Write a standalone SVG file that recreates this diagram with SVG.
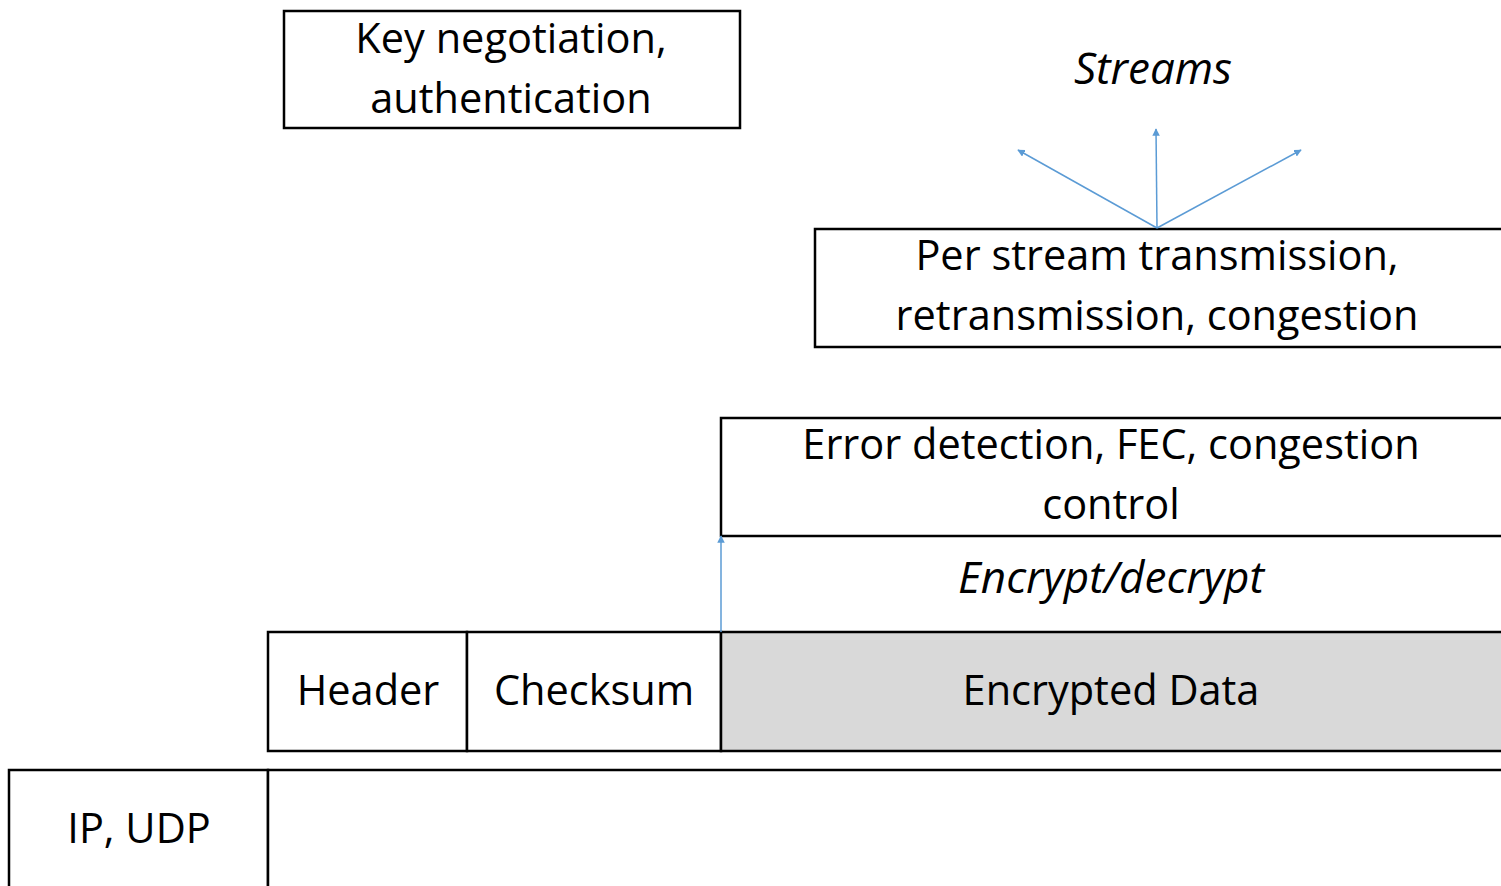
<svg xmlns="http://www.w3.org/2000/svg" width="1501" height="886" viewBox="0 0 1501 886">
  <style>
    .box { fill: #ffffff; stroke: #000000; stroke-width: 2.5; }
    .shaded { fill: #d9d9d9; stroke: #000000; stroke-width: 2.5; }
    .lbl { font-family: "Open Sans", "Liberation Sans", sans-serif; font-size: 41.5px; fill: #000000; text-anchor: middle; }
    .it { font-style: italic; font-size: 44px; }
    .link { stroke: #5b9bd5; stroke-width: 1.5; fill: none; marker-end: url(#tip); }
  </style>
  <defs>
    <marker id="tip" viewBox="0 0 10 10" refX="9" refY="5" markerWidth="5" markerHeight="5" orient="auto">
      <path d="M0,0 L10,5 L0,10 z" fill="#5b9bd5"/>
    </marker>
  </defs>
  <rect width="1501" height="886" fill="#ffffff"/>

  <g id="key-negotiation">
    <rect class="box" x="284" y="11" width="456" height="117"/>
    <text class="lbl" x="511" y="53">Key negotiation,</text>
    <text class="lbl" x="511" y="113">authentication</text>
  </g>

  <g id="streams">
    <text class="lbl it" x="1153" y="84">Streams</text>
  </g>

  <g id="per-stream">
    <rect class="box" x="815" y="229" width="700" height="118"/>
    <text class="lbl" x="1157" y="270">Per stream transmission,</text>
    <text class="lbl" x="1157" y="330">retransmission, congestion</text>
  </g>

  <g id="error-detection">
    <rect class="box" x="721" y="418" width="800" height="118"/>
    <text class="lbl" x="1111" y="459">Error detection, FEC, congestion</text>
    <text class="lbl" x="1111" y="519">control</text>
  </g>

  <g id="encrypt">
    <text class="lbl it" x="1111" y="593">Encrypt/decrypt</text>
  </g>

  <g id="header">
    <rect class="box" x="268" y="632" width="199" height="119"/>
    <text class="lbl" x="368" y="705">Header</text>
  </g>

  <g id="checksum">
    <rect class="box" x="467" y="632" width="254" height="119"/>
    <text class="lbl" x="594" y="705">Checksum</text>
  </g>

  <g id="encrypted-data">
    <rect class="shaded" x="721" y="632" width="800" height="119"/>
    <text class="lbl" x="1111" y="705">Encrypted Data</text>
  </g>

  <g id="ip-udp">
    <rect class="box" x="9" y="770" width="259" height="130"/>
    <text class="lbl" x="139" y="843">IP, UDP</text>
  </g>

  <g id="payload">
    <rect class="box" x="268" y="770" width="1253" height="130"/>
  </g>

  <g id="connectors">
    <line class="link" x1="1157" y1="228" x2="1018" y2="150"/>
    <line class="link" x1="1157" y1="228" x2="1156" y2="129"/>
    <line class="link" x1="1157" y1="228" x2="1301" y2="150"/>
    <line class="link" x1="721" y1="632" x2="721" y2="536"/>
  </g>
</svg>
